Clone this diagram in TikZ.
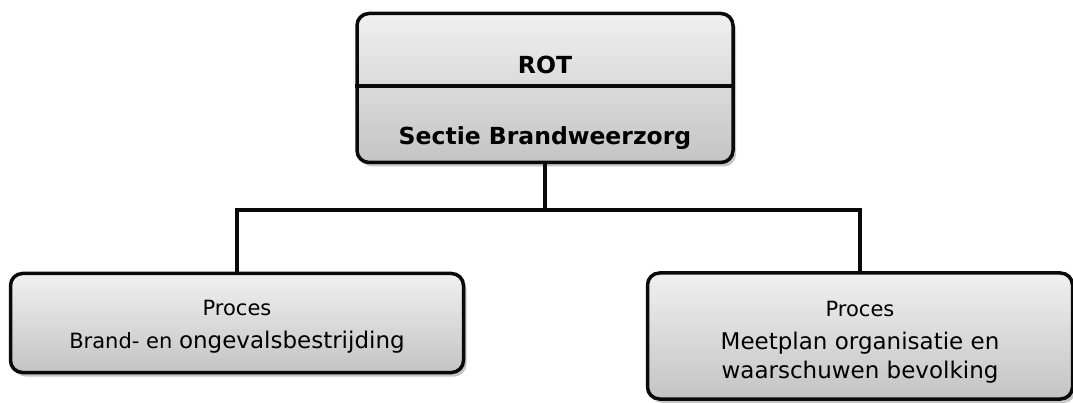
\documentclass[tikz,border=0pt]{standalone}
\usepackage{fontspec}
\setmainfont{DejaVu Sans}
\usepackage{tikz}
\usetikzlibrary{shadows,positioning}
\usepackage{xcolor}
\definecolor{boxtop}{RGB}{240,240,240}
\definecolor{boxbottom}{RGB}{196,196,196}
\definecolor{boxline}{RGB}{10,10,10}
\tikzstyle{conn} = [line width=3.2pt, color=boxline]
\tikzstyle{orgbox} = [rectangle, rounded corners=12pt, draw=boxline, line width=3.5pt, top color=boxtop, bottom color=boxbottom, drop shadow={shadow xshift=3pt, shadow yshift=-4pt, opacity=0.45}, align=center]
\newcommand{\procfont}{\fontsize{21}{33}\selectfont}
\newcommand{\namefont}{\fontsize{23}{33}\selectfont}

\begin{document}
\begin{tikzpicture}[x=1pt, y=-1pt]
\useasboundingbox (0,0) rectangle (1073,403);
% ROT box
\node[orgbox, minimum width=376pt, minimum height=149pt] (rot) at (545,88) {};
\draw[conn] (rot.west |- 0,86) -- (rot.east |- 0,86);
\node[font=\fontsize{23.5}{28}\selectfont\bfseries] (rottitle) at (545,65) {ROT};
\node[font=\fontsize{23.5}{28}\selectfont\bfseries] (sectie) at (545,138) {Sectie Brandweerzorg};

% Processes
\node[orgbox, minimum width=453pt, minimum height=99pt, font=\procfont] (proc1) at (237,323) {\rule{0pt}{22pt}Proces\\Brand- en {\fontsize{23}{33}\selectfont ongevalsbestrijding}};
\node[orgbox, minimum width=425pt, minimum height=126pt, font=\procfont] (proc2) at (860,336) {\rule{0pt}{27pt}Proces\\{\namefont Meetplan organisatie en}\\[-4pt]{\namefont waarschuwen bevolking}};

% Connections
\coordinate (junction) at (545,210);
\draw[conn] (rot.south) -- (junction);
\draw[conn] (proc1.north) |- (junction) -| (proc2.north);
\end{tikzpicture}
\end{document}
